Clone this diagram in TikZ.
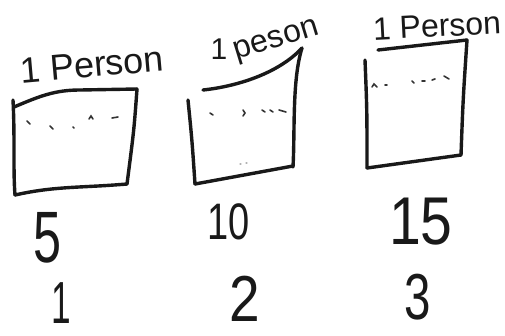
\documentclass[tikz,border=0pt]{standalone}
\usepackage{fontspec}
\setmainfont{Liberation Sans}
\begin{document}
\begin{tikzpicture}[x=1pt,y=-1pt,
  pen/.style={line width=3.4pt,line cap=round,line join=round,black!90},
  tick/.style={line width=1.6pt,line cap=round,black!80},
  faint/.style={line width=1.2pt,line cap=round,black!30},
  lbl/.style={inner sep=0pt,black!90},
  num/.style={inner sep=0pt,black!90}]
\useasboundingbox (0,0) rectangle (505,335);
% ---- box 1 ----
\draw[pen] (14,107) .. controls (40,96) and (55,90) .. (80,90) -- (137,89);
\draw[pen] (137,89) .. controls (134,130) .. (127,184);
\draw[pen] (13,100) .. controls (15,140) and (13,170) .. (15,195);
\draw[pen] (15,195) .. controls (55,186) and (80,188) .. (127,184);
\draw[tick] (27,121) -- (30,124) (50,126) -- (53,129) (73,127) -- (74,128)
            (89,119) -- (91,116) -- (93,119) (112,118) -- (118,117);
% ---- box 2 ----
\draw[pen] (203,90) .. controls (240,86) and (280,72) .. (302,48);
\draw[pen] (302,48) .. controls (292,80) and (295,130) .. (293,167);
\draw[pen] (188,100) .. controls (192,140) .. (195,184);
\draw[pen] (195,184) -- (293,166);
\draw[tick] (210,113) -- (213,115) (243,110) -- (245,113) -- (243,116)
            (262,110) -- (265,112) (270,110) -- (273,112) (279,110) -- (286,112);
\draw[faint] (240,164) -- (241,164) (246,163) -- (247,163);
% ---- box 3 ----
\draw[pen] (378,50) -- (467,40);
\draw[pen] (467,40) .. controls (463,100) .. (461,155);
\draw[pen] (365,60) .. controls (367,110) .. (367,168);
\draw[pen] (367,168) -- (461,155);
\draw[tick] (372,87) -- (374,84) -- (377,87) (385,85) -- (387,85)
            (412,81) -- (414,83) (422,81) -- (425,81) (432,80) -- (435,79)
            (444,76) -- (449,79);
% ---- labels ----
\node[lbl,font=\fontsize{36}{38}\selectfont,rotate=5] (l1) at (92,65) {1 Person};
\node[lbl,font=\fontsize{30}{32}\selectfont] (l2a) at (219,49) {1};
\node[lbl,font=\fontsize{32}{34}\selectfont,rotate=17] (l2b) at (277,42) {peson};
\node[lbl,font=\fontsize{32}{34}\selectfont,rotate=3] (l3) at (437,26) {1 Person};
% ---- numbers ----
\node[num,font=\fontsize{56}{58}\selectfont] (n1) at (48,238) {\scalebox{0.9}[1.3]{5}};
\node[num,font=\fontsize{38}{40}\selectfont] (n2) at (229,222) {\scalebox{1}[1.35]{10}};
\node[num,font=\fontsize{52}{54}\selectfont] (n3) at (421,222) {\scalebox{1.1}[1.3]{15}};
\node[num,font=\fontsize{44}{46}\selectfont] (c1) at (61,303) {\scalebox{0.8}[1.35]{1}};
\node[num,font=\fontsize{50}{52}\selectfont] (c2) at (245,299) {\scalebox{1.1}[1.3]{2}};
\node[num,font=\fontsize{50}{52}\selectfont] (c3) at (418,297) {\scalebox{0.95}[1.3]{3}};
\end{tikzpicture}
\end{document}
